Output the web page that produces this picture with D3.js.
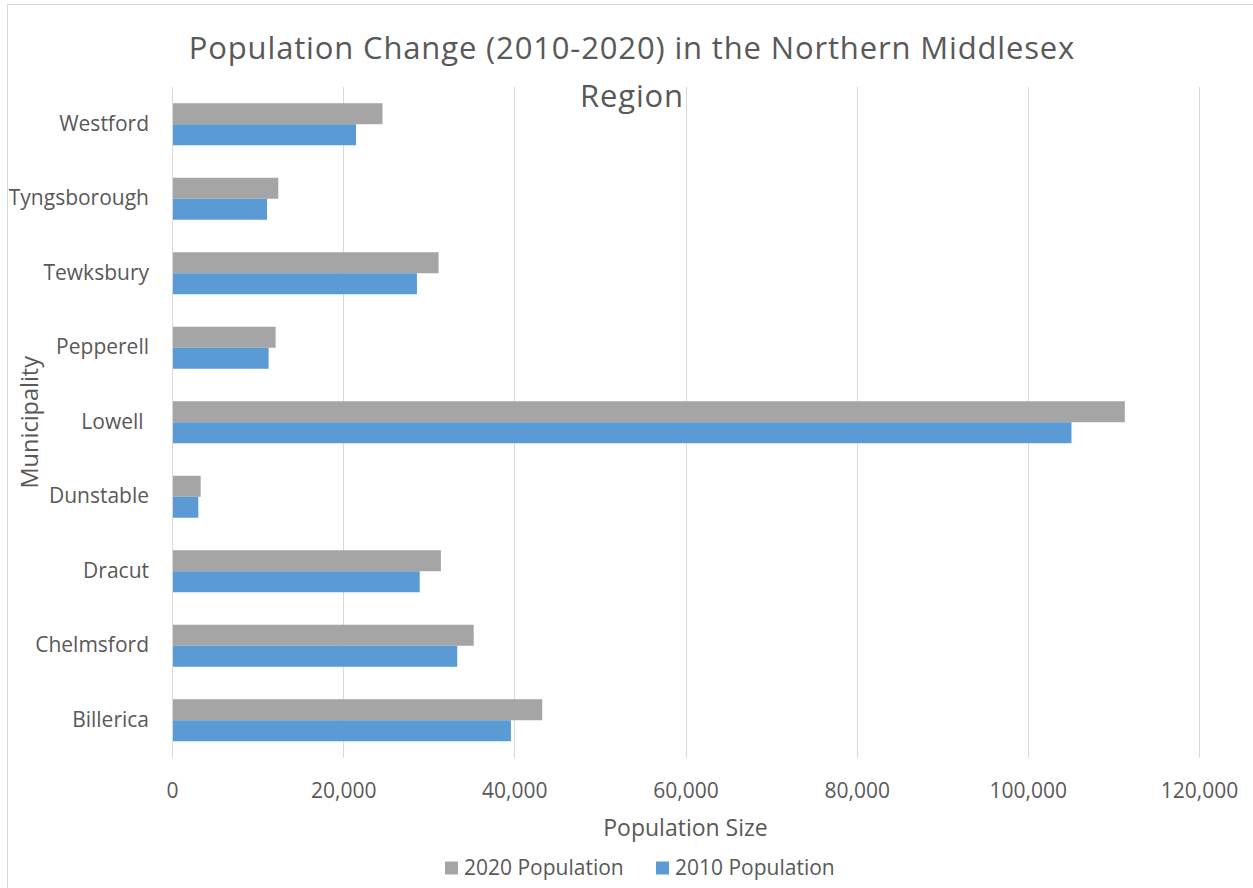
<!DOCTYPE html>
<html>
<head>
<meta charset="utf-8">
<script src="https://cdn.jsdelivr.net/npm/d3@7"></script>
<style>
  html, body { margin: 0; padding: 0; background: #fff; }
  svg { display: block; }
  text { font-family: "Open Sans", "Noto Sans", sans-serif; fill: #595959; }
</style>
</head>
<body>
<svg id="chart" width="1253" height="888"></svg>
<script>
// Municipalities, listed top to bottom as drawn
const municipalities = ["Westford", "Tyngsborough", "Tewksbury", "Pepperell", "Lowell ", "Dunstable", "Dracut", "Chelmsford", "Billerica"];
const population2020 = [24600, 12420, 31150, 12110, 111330, 3350, 31420, 35250, 43260];
const population2010 = [21500, 11100, 28620, 11290, 105100, 3075, 28940, 33330, 39600];
const seriesNames = ["2020 Population", "2010 Population"];
const seriesColors = ["#A5A5A5", "#5B9BD5"];
const xTicks = [0, 20000, 40000, 60000, 80000, 100000, 120000];

const svg = d3.select("#chart");

// chart frame
svg.append("rect")
  .attr("x", 7.5).attr("y", 4.5)
  .attr("width", 1260).attr("height", 900)
  .attr("fill", "#fff").attr("stroke", "#D9D9D9").attr("stroke-width", 1);

const plot = { left: 172, right: 1199, top: 87, bottom: 757.5 };

const x = d3.scaleLinear().domain([0, 120000]).range([plot.left, plot.right]);
const y = d3.scaleBand().domain(municipalities)
  .range([plot.top, plot.bottom])
  .paddingInner(0.436).paddingOuter(0.218);
const sub = d3.scaleBand().domain(seriesNames).range([0, y.bandwidth()]);

// vertical gridlines
svg.append("g").selectAll("line").data(xTicks).join("line")
  .attr("x1", d => Math.round(x(d)) + 0.5).attr("x2", d => Math.round(x(d)) + 0.5)
  .attr("y1", plot.top).attr("y2", plot.bottom)
  .attr("stroke", "#D9D9D9").attr("stroke-width", 1);

// bars
const rows = municipalities.map((m, i) => ({ m, vals: [population2020[i], population2010[i]] }));
const groups = svg.append("g").selectAll("g").data(rows).join("g")
  .attr("transform", d => `translate(0,${y(d.m)})`);
groups.selectAll("rect").data(d => d.vals.map((v, j) => ({ v, s: seriesNames[j], c: seriesColors[j] })))
  .join("rect")
  .attr("x", x(0) + 1)
  .attr("y", d => sub(d.s))
  .attr("width", d => x(d.v) - x(0) - 1)
  .attr("height", sub.bandwidth())
  .attr("fill", d => d.c);

// zero line over bars
svg.append("line")
  .attr("x1", Math.round(x(0)) + 0.5).attr("x2", Math.round(x(0)) + 0.5)
  .attr("y1", plot.top).attr("y2", plot.bottom)
  .attr("stroke", "#D9D9D9");

// x axis tick labels
const xAxis = d3.axisBottom(x).tickValues(xTicks).tickFormat(d3.format(",")).tickSize(0).tickPadding(0);
const gx = svg.append("g").attr("transform", `translate(0,${plot.bottom})`).call(xAxis);
gx.select(".domain").remove();
gx.selectAll("text")
  .attr("y", 33).attr("dy", "0.35em")
  .style("font-size", "21px").style("fill", "#595959")
  .style("font-family", "'Open Sans', sans-serif");

// y axis category labels
const yAxis = d3.axisLeft(y).tickSize(0).tickPadding(23);
const gy = svg.append("g").attr("transform", `translate(${plot.left},0)`).call(yAxis);
gy.select(".domain").remove();
gy.selectAll("text")
  .style("font-size", "21px").style("fill", "#595959")
  .style("white-space", "pre")
  .style("font-family", "'Open Sans', sans-serif");

// title
const title = svg.append("text")
  .attr("text-anchor", "middle")
  .style("font-size", "31px")
  .style("letter-spacing", "0.85px");
title.append("tspan").attr("x", 632).attr("y", 59).text("Population Change (2010-2020) in the Northern Middlesex");
title.append("tspan").attr("x", 632).attr("y", 107).text("Region");

// axis titles
svg.append("text")
  .attr("x", (plot.left + plot.right) / 2).attr("y", 828).attr("dy", "0.35em")
  .attr("text-anchor", "middle").style("font-size", "23px")
  .text("Population Size");

svg.append("text")
  .attr("transform", `translate(30,${(plot.top + plot.bottom) / 2}) rotate(-90)`)
  .attr("dy", "0.35em")
  .attr("text-anchor", "middle").style("font-size", "23.5px")
  .text("Municipality");

// legend
const legendItems = [
  { name: seriesNames[0], color: seriesColors[0], x: 445 },
  { name: seriesNames[1], color: seriesColors[1], x: 656 }
];
const lg = svg.append("g").selectAll("g").data(legendItems).join("g")
  .attr("transform", d => `translate(${d.x},868)`);
lg.append("rect").attr("x", 0).attr("y", -6.5).attr("width", 13).attr("height", 13).attr("fill", d => d.color);
lg.append("text").attr("x", 19).attr("dy", "0.35em").style("font-size", "21px").text(d => d.name);
</script>
</body>
</html>
